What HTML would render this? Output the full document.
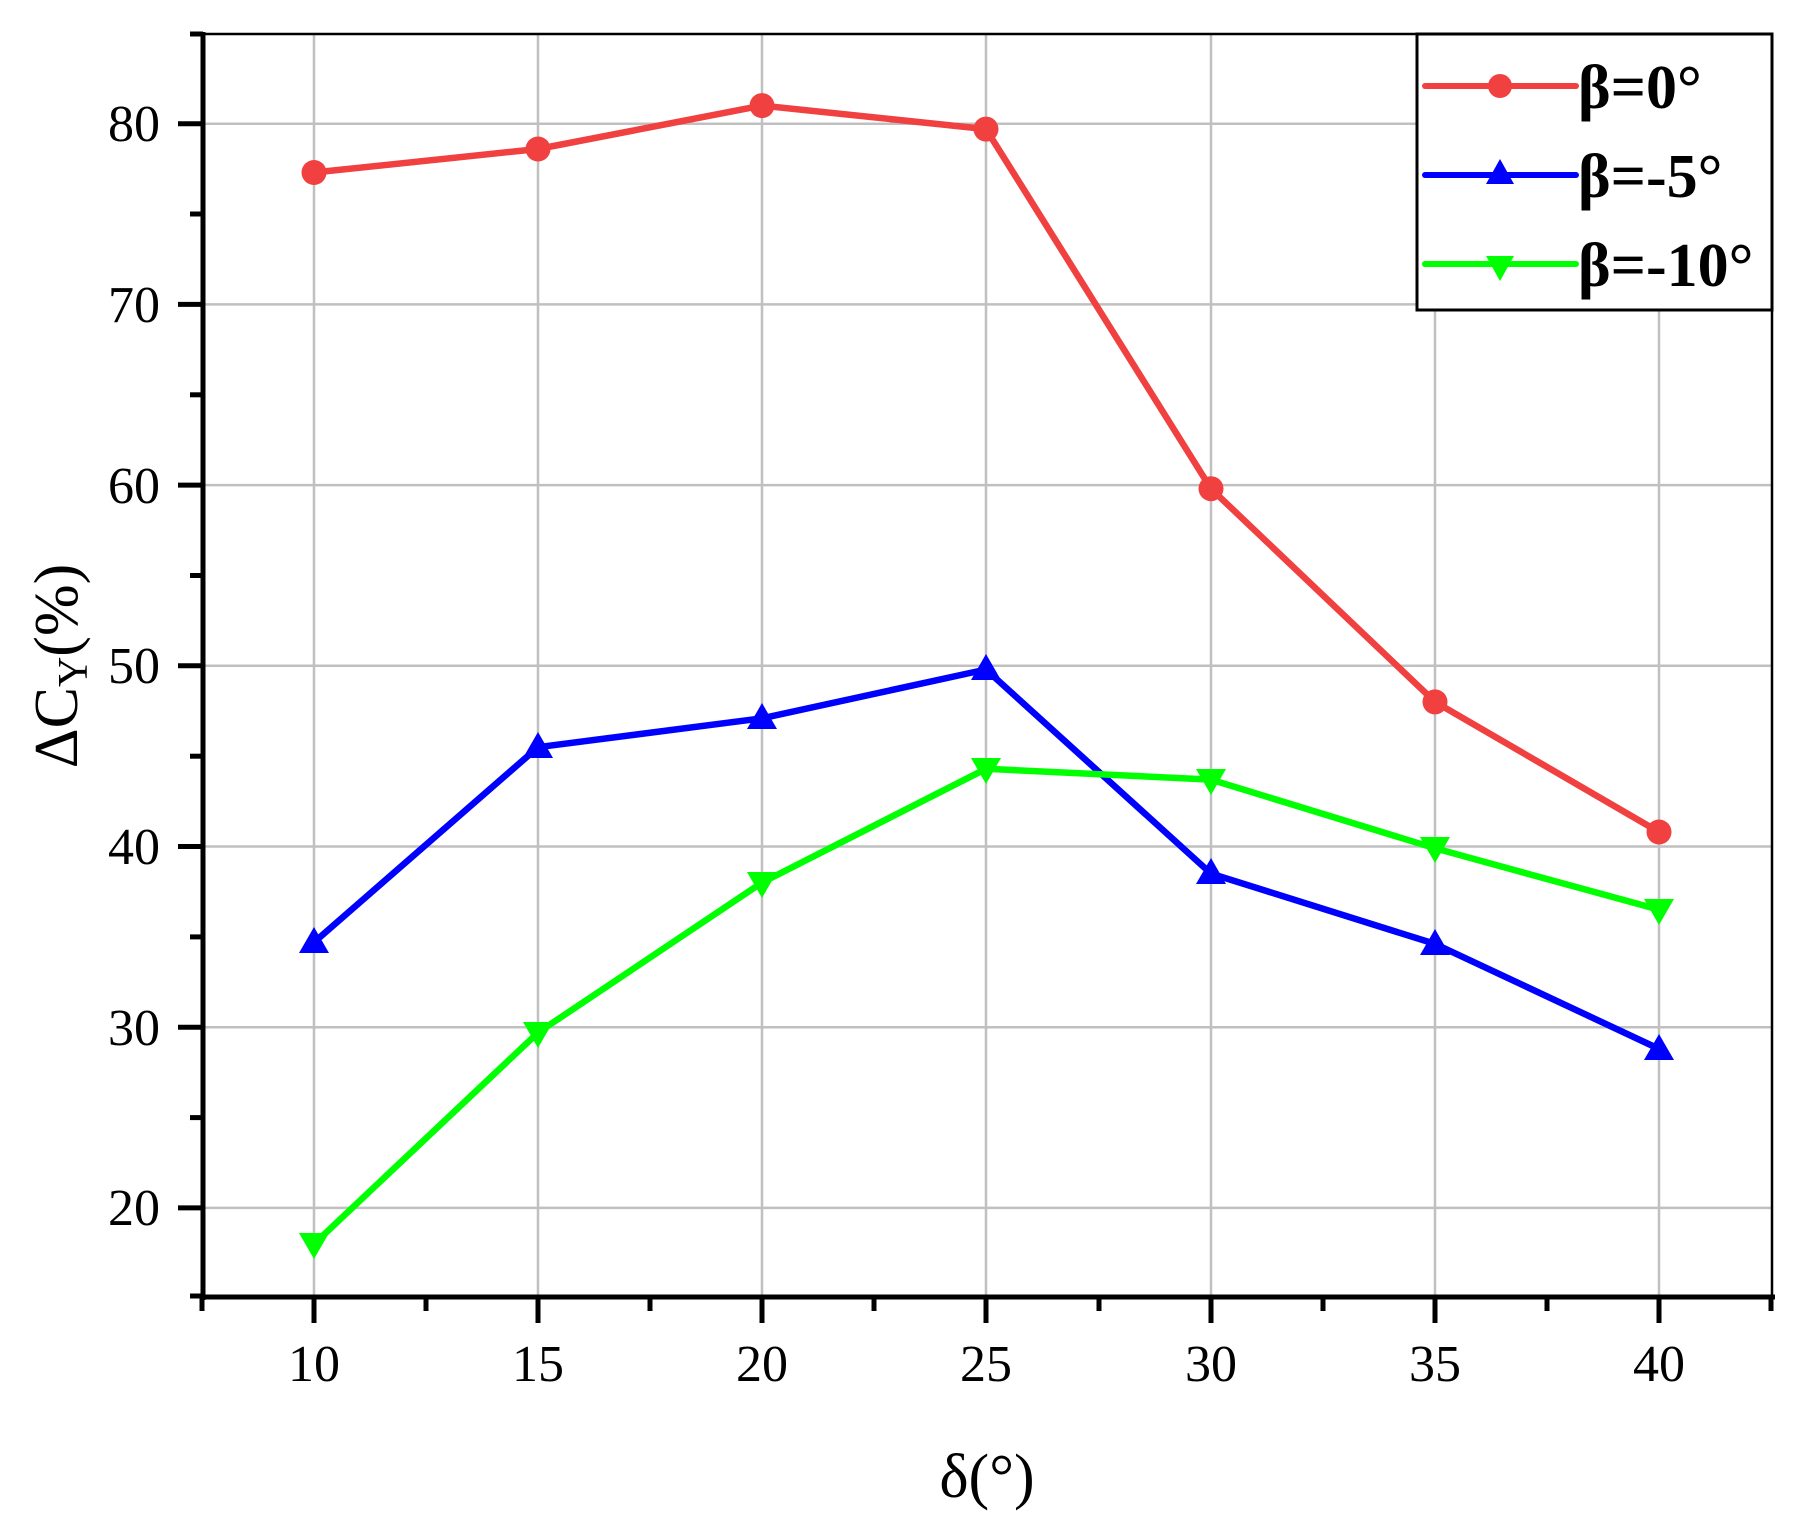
<!DOCTYPE html>
<html><head><meta charset="utf-8"><style>body{margin:0;background:#fff}svg{display:block}</style></head><body>
<svg width="1795" height="1526" viewBox="0 0 1795 1526" xmlns="http://www.w3.org/2000/svg" font-family="'Liberation Serif', serif">
<g stroke="#c0c0c0" stroke-width="2.5">
<line x1="314" y1="34" x2="314" y2="1297"/><line x1="538" y1="34" x2="538" y2="1297"/><line x1="762" y1="34" x2="762" y2="1297"/><line x1="986" y1="34" x2="986" y2="1297"/><line x1="1211" y1="34" x2="1211" y2="1297"/><line x1="1435" y1="34" x2="1435" y2="1297"/><line x1="1659" y1="34" x2="1659" y2="1297"/>
<line x1="203" y1="123.7" x2="1772" y2="123.7"/><line x1="203" y1="304.4" x2="1772" y2="304.4"/><line x1="203" y1="485.1" x2="1772" y2="485.1"/><line x1="203" y1="665.8" x2="1772" y2="665.8"/><line x1="203" y1="846.5" x2="1772" y2="846.5"/><line x1="203" y1="1027.2" x2="1772" y2="1027.2"/><line x1="203" y1="1207.9" x2="1772" y2="1207.9"/>
</g>
<g stroke="#000" fill="none">
<line x1="203" y1="34" x2="1772" y2="34" stroke-width="2.5"/>
<line x1="1772" y1="34" x2="1772" y2="1297" stroke-width="2.5"/>
<line x1="203" y1="32" x2="203" y2="1300" stroke-width="5"/>
<line x1="200" y1="1297" x2="1775" y2="1297" stroke-width="5"/>
<g stroke-width="5">
<line x1="178" y1="123.7" x2="203" y2="123.7"/><line x1="178" y1="304.4" x2="203" y2="304.4"/><line x1="178" y1="485.1" x2="203" y2="485.1"/><line x1="178" y1="665.8" x2="203" y2="665.8"/><line x1="178" y1="846.5" x2="203" y2="846.5"/><line x1="178" y1="1027.2" x2="203" y2="1027.2"/><line x1="178" y1="1207.9" x2="203" y2="1207.9"/>
<line x1="190" y1="34" x2="203" y2="34"/><line x1="190" y1="214" x2="203" y2="214"/><line x1="190" y1="394.8" x2="203" y2="394.8"/><line x1="190" y1="575.5" x2="203" y2="575.5"/><line x1="190" y1="756.2" x2="203" y2="756.2"/><line x1="190" y1="936.9" x2="203" y2="936.9"/><line x1="190" y1="1117.6" x2="203" y2="1117.6"/><line x1="190" y1="1296" x2="203" y2="1296"/>
<line x1="314" y1="1297" x2="314" y2="1323"/><line x1="538" y1="1297" x2="538" y2="1323"/><line x1="762" y1="1297" x2="762" y2="1323"/><line x1="986" y1="1297" x2="986" y2="1323"/><line x1="1211" y1="1297" x2="1211" y2="1323"/><line x1="1435" y1="1297" x2="1435" y2="1323"/><line x1="1659" y1="1297" x2="1659" y2="1323"/>
<line x1="202" y1="1297" x2="202" y2="1311"/><line x1="426" y1="1297" x2="426" y2="1311"/><line x1="650" y1="1297" x2="650" y2="1311"/><line x1="874" y1="1297" x2="874" y2="1311"/><line x1="1099" y1="1297" x2="1099" y2="1311"/><line x1="1323" y1="1297" x2="1323" y2="1311"/><line x1="1547" y1="1297" x2="1547" y2="1311"/><line x1="1771" y1="1297" x2="1771" y2="1311"/>
</g></g>
<g font-size="52" text-anchor="end" fill="#000">
<text x="160" y="141">80</text><text x="160" y="322">70</text><text x="160" y="503">60</text><text x="160" y="683">50</text><text x="160" y="864">40</text><text x="160" y="1045">30</text><text x="160" y="1225">20</text>
</g>
<g font-size="52" text-anchor="middle" fill="#000">
<text x="314" y="1381">10</text><text x="538" y="1381">15</text><text x="762" y="1381">20</text><text x="986" y="1381">25</text><text x="1211" y="1381">30</text><text x="1435" y="1381">35</text><text x="1659" y="1381">40</text>
</g>
<text x="987" y="1497" font-size="62" text-anchor="middle">δ(°)</text>
<text transform="translate(77,666) rotate(-90)" font-size="62" text-anchor="middle">ΔC<tspan font-size="42" dy="10">Y</tspan><tspan dy="-10">(%)</tspan></text>
<g fill="none" stroke-width="6.5" stroke-linejoin="round">
<polyline stroke="#f04040" points="314,172.5 538,149 762,105.6 986,129.1 1211,488.7 1435,701.9 1659,832"/>
<polyline stroke="#0000ff" points="314,942.3 538,747.2 762,718.3 986,669.5 1211,873.6 1435,943.9 1659,1048.9"/>
<polyline stroke="#00ff00" points="314,1244 538,1032.6 762,882.6 986,768.8 1211,779.6 1435,848.3 1659,909.7"/>
</g>
<g fill="#f04040"><circle cx="314" cy="172.5" r="12.5"/><circle cx="538" cy="149" r="12.5"/><circle cx="762" cy="105.6" r="12.5"/><circle cx="986" cy="129.1" r="12.5"/><circle cx="1211" cy="488.7" r="12.5"/><circle cx="1435" cy="701.9" r="12.5"/><circle cx="1659" cy="832" r="12.5"/></g>
<g fill="#0000ff">
<path d="M314,927 l15,26 h-30z"/><path d="M538,732 l15,26 h-30z"/><path d="M762,703 l15,26 h-30z"/><path d="M986,654 l15,26 h-30z"/><path d="M1211,858 l15,26 h-30z"/><path d="M1435,929 l15,26 h-30z"/><path d="M1659,1034 l15,26 h-30z"/>
</g>
<g fill="#00ff00">
<path d="M314,1259 l15,-26 h-30z"/><path d="M538,1048 l15,-26 h-30z"/><path d="M762,898 l15,-26 h-30z"/><path d="M986,784 l15,-26 h-30z"/><path d="M1211,795 l15,-26 h-30z"/><path d="M1435,863 l15,-26 h-30z"/><path d="M1659,925 l15,-26 h-30z"/>
</g>
<rect x="1417" y="34" width="355" height="276" fill="#fff" stroke="#000" stroke-width="3"/>
<g stroke-width="6" stroke-linecap="round">
<line x1="1425" y1="86" x2="1576" y2="86" stroke="#f04040"/>
<line x1="1425" y1="175" x2="1576" y2="175" stroke="#0000ff"/>
<line x1="1425" y1="264" x2="1576" y2="264" stroke="#00ff00"/>
</g>
<circle cx="1500" cy="86" r="12" fill="#f04040"/>
<path d="M1500,159 l14,25 h-28z" fill="#0000ff"/>
<path d="M1500,281 l14,-25 h-28z" fill="#00ff00"/>
<g font-size="62" font-weight="bold" fill="#000">
<text x="1578" y="108">β=0°</text><text x="1578" y="197">β=-5°</text><text x="1578" y="286">β=-10°</text>
</g>
</svg>
</body></html>
